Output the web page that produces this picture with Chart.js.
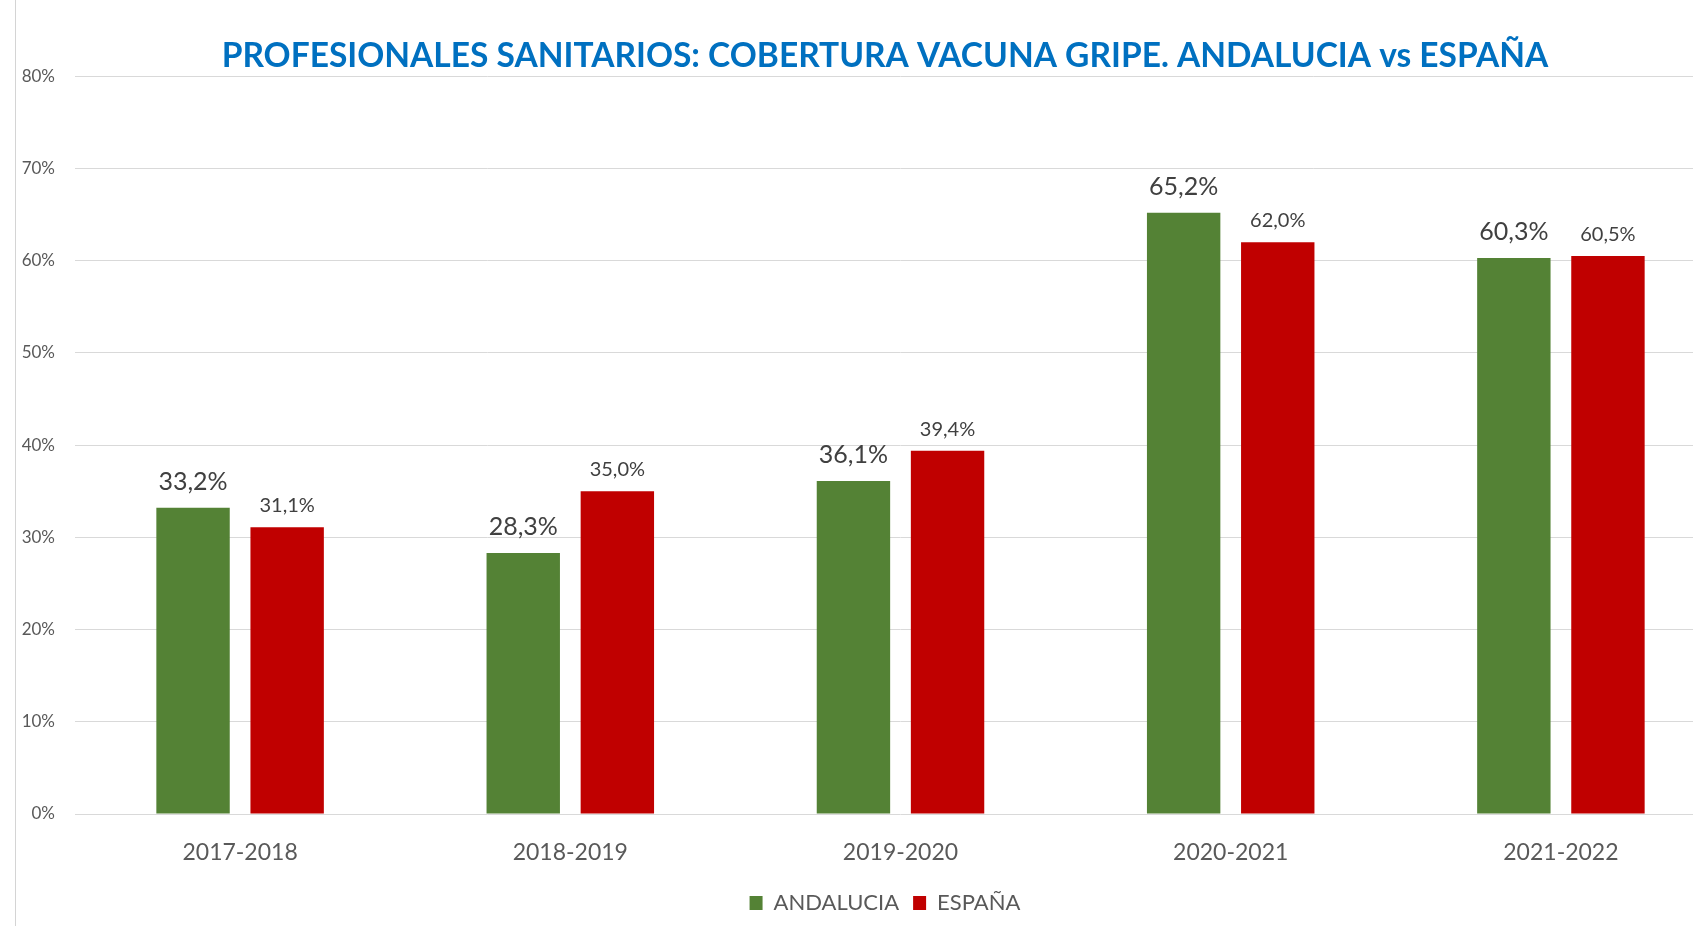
<!DOCTYPE html>
<html>
<head>
<meta charset="utf-8">
<script src="https://cdn.jsdelivr.net/npm/chart.js@4"></script>
<style>
  html, body { margin: 0; padding: 0; background: #fff; overflow: hidden; }
  #wrap { position: relative; width: 1770px; height: 926px; }
  #frame { position: absolute; left: 15px; top: 0; height: 926px; border-left: 1px solid #d4d4d4; }
</style>
</head>
<body>
<div id="wrap">
  <div id="frame"></div>
  <canvas id="chart" width="1770" height="926"></canvas>
</div>
<script>
const temporadas = ['2017-2018', '2018-2019', '2019-2020', '2020-2021', '2021-2022'];
const andalucia  = [33.2, 28.3, 36.1, 65.2, 60.3];
const espana     = [31.1, 35.0, 39.4, 62.0, 60.5];

const FONT = 'Lato, "Open Sans", sans-serif';

// etiquetas encima de cada barra (33,2% ...)
const barLabels = {
  id: 'barLabels',
  afterDatasetsDraw(chart) {
    const ctx = chart.ctx;
    chart.data.datasets.forEach((ds, i) => {
      const meta = chart.getDatasetMeta(i);
      const size = i === 0 ? 25 : 20;
      const off  = i === 0 ? 18 : 15;
      ctx.save();
      ctx.font = size + 'px ' + FONT;
      ctx.fillStyle = '#404040';
      ctx.textAlign = 'center';
      ctx.textBaseline = 'alphabetic';
      meta.data.forEach((el, j) => {
        const txt = ds.data[j].toFixed(1).replace('.', ',') + '%';
        ctx.fillText(txt, el.x, el.y - off);
      });
      ctx.restore();
    });
  }
};

new Chart(document.getElementById('chart'), {
  type: 'bar',
  data: {
    labels: temporadas,
    datasets: [
      { label: 'ANDALUCIA', data: andalucia, backgroundColor: '#548235',
        categoryPercentage: 0.57, barPercentage: 0.78 },
      { label: 'ESPAÑA', data: espana, backgroundColor: '#C00000',
        categoryPercentage: 0.57, barPercentage: 0.78 }
    ]
  },
  options: {
    responsive: false,
    animation: false,
    layout: { padding: { left: 0, right: 0, top: 0, bottom: 2 } },
    plugins: {
      title: {
        display: true,
        text: 'PROFESIONALES SANITARIOS: COBERTURA VACUNA GRIPE. ANDALUCIA vs ESPAÑA',
        color: '#0070C0',
        font: { family: FONT, size: 33.5, weight: 'bold' },
        padding: { top: 36, bottom: 0 }
      },
      legend: {
        position: 'bottom',
        labels: {
          color: '#595959',
          font: { family: FONT, size: 22 },
          boxWidth: 13, boxHeight: 14,
          padding: 14
        }
      },
      tooltip: { enabled: false }
    },
    scales: {
      x: {
        grid: { display: false, drawTicks: false },
        border: { display: false },
        ticks: { color: '#595959', font: { family: FONT, size: 23 }, padding: 25 },
        afterFit: s => { s.height = 64; }
      },
      y: {
        min: 0, max: 80,
        grid: { color: '#d9d9d9', drawTicks: false },
        border: { display: false },
        ticks: { stepSize: 10, color: '#595959', font: { family: FONT, size: 17 }, padding: 20,
                 callback: v => v + '%' },
        afterFit: s => { s.width = 75; }
      },
      // eje vacío a la derecha: solo reserva el margen derecho del área de trazado
      yRight: {
        position: 'right', min: 0, max: 80,
        grid: { display: false, drawTicks: false },
        border: { display: false },
        ticks: { display: false },
        afterFit: s => { s.width = 44; }
      }
    }
  },
  plugins: [barLabels]
});
</script>
</body>
</html>
